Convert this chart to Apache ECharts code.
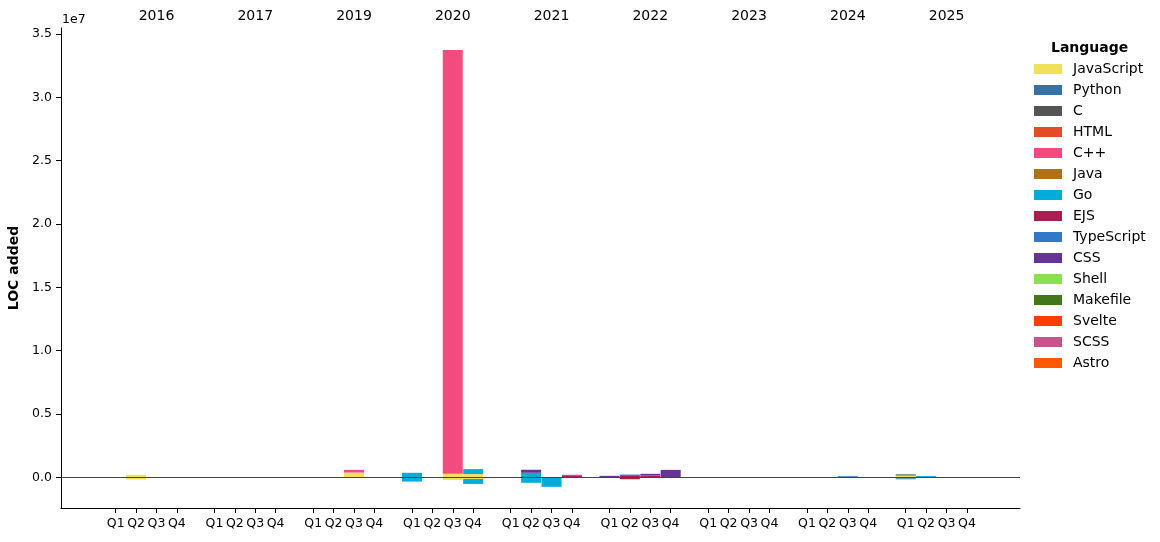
<!DOCTYPE html>
<html>
<head>
<meta charset="utf-8">
<script src="https://cdn.jsdelivr.net/npm/echarts@6/dist/echarts.min.js"></script>
<style>
  html, body { margin: 0; padding: 0; background: #fff; }
  #chart { width: 1160px; height: 542px; }
</style>
</head>
<body>
<div id="chart"></div>
<script>
const years = ['2016', '2017', '2019', '2020', '2021', '2022', '2023', '2024', '2025']
const quarters = ['Q1', 'Q2', 'Q3', 'Q4']
const languages = ['JavaScript', 'Python', 'C', 'HTML', 'C++', 'Java', 'Go', 'EJS',
  'TypeScript', 'CSS', 'Shell', 'Makefile', 'Svelte', 'SCSS', 'Astro']
const yTicks = [0, 5e6, 1e7, 1.5e7, 2e7, 2.5e7, 3e7, 3.5e7]

// lines added (positive) and removed (negative) per quarter
const addedJavaScript = [['2016 Q2', 200000], ['2019 Q3', 380000], ['2020 Q3', 280000], ['2020 Q4', 260000], ['2025 Q1', 130000]]
const removedJavaScript = [['2016 Q2', -170000], ['2020 Q3', -200000], ['2020 Q4', -130000]]
const removedPython = [['2025 Q1', -40000]]
const addedCpp = [['2019 Q3', 210000], ['2020 Q3', 33460000]]
const addedGo = [['2020 Q1', 360000], ['2020 Q4', 390000], ['2021 Q2', 360000], ['2024 Q4', 15000], ['2025 Q1', 110000], ['2025 Q2', 100000]]
const removedGo = [['2020 Q1', -330000], ['2020 Q4', -390000], ['2021 Q2', -430000], ['2021 Q3', -750000], ['2024 Q4', -15000], ['2025 Q1', -30000]]
const addedEjs = [['2021 Q4', 140000], ['2022 Q2', 170000], ['2022 Q3', 140000]]
const removedEjs = [['2021 Q4', -20000], ['2022 Q1', -20000], ['2022 Q2', -150000]]
const addedTypeScript = [['2022 Q2', 50000], ['2024 Q3', 90000]]
const removedTypeScript = [['2025 Q1', -50000], ['2025 Q2', -20000]]
const addedCss = [['2021 Q2', 240000], ['2021 Q4', 60000], ['2022 Q1', 120000], ['2022 Q3', 140000], ['2022 Q4', 590000]]
const removedMakefile = [['2025 Q1', -30000]]
const addedSvelte = [['2025 Q1', 30000]]

const added = {
  JavaScript: addedJavaScript, 'C++': addedCpp, Go: addedGo, EJS: addedEjs,
  TypeScript: addedTypeScript, CSS: addedCss, Svelte: addedSvelte
}
const removed = {
  JavaScript: removedJavaScript, Python: removedPython, Go: removedGo, EJS: removedEjs,
  TypeScript: removedTypeScript, Makefile: removedMakefile
}

const colors = {
  JavaScript: '#f1e05a', Python: '#3572a5', C: '#555555', HTML: '#e34c26',
  'C++': '#f34b7d', Java: '#b07219', Go: '#00add8', EJS: '#a91e50',
  TypeScript: '#3178c6', CSS: '#663399', Shell: '#89e051', Makefile: '#427819',
  Svelte: '#ff3e00', SCSS: '#c6538c', Astro: '#ff5a03'
}

const YEAR_STEP = 4.84
const slots = []
years.forEach((year, i) => {
  quarters.forEach((q, j) => {
    slots.push({ key: year + ' ' + q, x: +(i * YEAR_STEP + j).toFixed(3), label: q })
  })
})
const quarterLabel = {}
slots.forEach((s) => { quarterLabel[s.x.toFixed(3)] = s.label })
const yearPos = years.map((y, i) => +(i * YEAR_STEP + 2).toFixed(3))
const yearLabel = {}
yearPos.forEach((p, i) => { yearLabel[p.toFixed(3)] = years[i] })

// value first so that the stack runs on y (both axes are value axes)
function fullSeries(pairs) {
  const m = new Map(pairs || [])
  return slots.map((s) => [m.get(s.key) || 0, s.x])
}

const font = 'DejaVu Sans'
const series = []
languages.forEach((lang) => {
  ;[added[lang], removed[lang]].forEach((pairs) => {
    series.push({
      name: lang,
      type: 'bar',
      stack: 'loc',
      barWidth: 20,
      encode: { x: 1, y: 0 },
      itemStyle: { color: colors[lang] },
      data: fullSeries(pairs)
    })
  })
})
series[0].markLine = {
  silent: true,
  symbol: 'none',
  label: { show: false },
  lineStyle: { color: '#444', width: 1, type: 'solid' },
  data: [{ yAxis: 0 }]
}

const chart = echarts.init(document.getElementById('chart'))
chart.setOption({
  animation: false,
  textStyle: { fontFamily: font },
  grid: { left: 61, right: 140, top: 28, bottom: 34, outerBoundsMode: 'none' },
  legend: {
    data: languages,
    orient: 'vertical',
    left: 1029,
    top: 57,
    icon: 'rect',
    itemWidth: 28,
    itemHeight: 10,
    itemGap: 7,
    selectedMode: false,
    textStyle: { fontFamily: font, fontSize: 14, color: '#000', lineHeight: 14, padding: [0, 0, 0, 6] }
  },
  graphic: [
    {
      type: 'text', left: 1051, top: 41,
      style: { text: 'Language', font: 'bold 14px "DejaVu Sans"', fill: '#000' }
    },
    {
      type: 'text', left: 62, top: 13,
      style: { text: '1e7', font: '12.5px "DejaVu Sans"', fill: '#000' }
    }
  ],
  xAxis: [
    {
      type: 'value',
      position: 'bottom',
      min: -2.68,
      max: 44.32,
      splitLine: { show: false },
      axisLine: { show: true, onZero: false, lineStyle: { color: '#000', width: 1 } },
      axisTick: { show: true, length: 5, lineStyle: { color: '#000' }, customValues: slots.map((s) => s.x) },
      axisLabel: {
        margin: 9, fontSize: 12.5, color: '#000', fontFamily: font,
        customValues: slots.map((s) => s.x),
        formatter: (v) => quarterLabel[(+v).toFixed(3)] || ''
      }
    },
    {
      type: 'value',
      position: 'top',
      min: -2.68,
      max: 44.32,
      splitLine: { show: false },
      axisLine: { show: false },
      axisTick: { show: false },
      axisLabel: {
        margin: 5, fontSize: 14, color: '#000', fontFamily: font,
        customValues: yearPos,
        formatter: (v) => yearLabel[(+v).toFixed(3)] || ''
      }
    }
  ],
  yAxis: {
    type: 'value',
    min: -2420000,
    max: 35480000,
    name: 'LOC added',
    nameLocation: 'middle',
    nameGap: 30,
    nameTextStyle: { fontFamily: font, fontSize: 14, fontWeight: 'bold', color: '#000' },
    splitLine: { show: false },
    axisLine: { show: true, onZero: false, lineStyle: { color: '#000', width: 1 } },
    axisTick: { show: true, length: 5, lineStyle: { color: '#000' }, customValues: yTicks },
    axisLabel: {
      margin: 9, fontSize: 12.5, color: '#000', fontFamily: font,
      customValues: yTicks,
      formatter: (v) => (v / 1e7).toFixed(1)
    }
  },
  series: series
})
</script>
</body>
</html>
